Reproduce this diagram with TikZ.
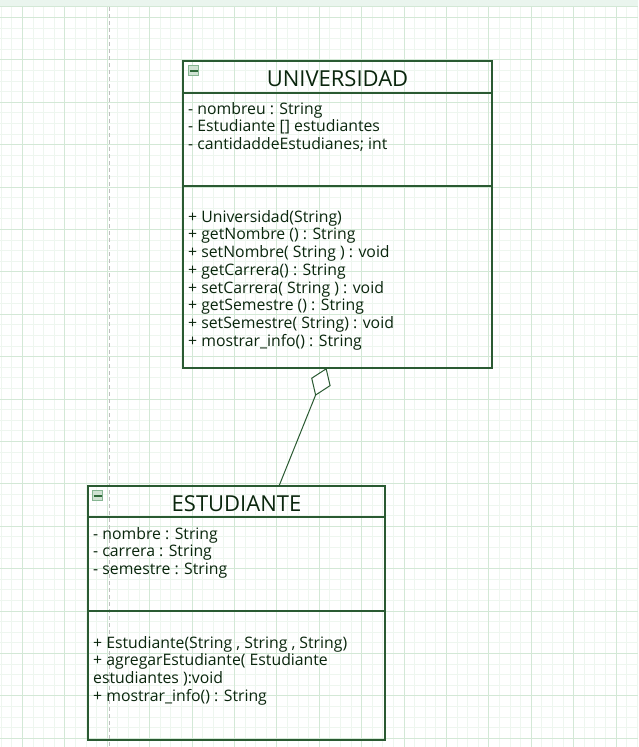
\documentclass[tikz,border=0pt]{standalone}
\usepackage{fontspec}
\setmainfont{Open Sans}
\usetikzlibrary{arrows.meta,positioning,calc}

\definecolor{umlline}{HTML}{2A5A32}
\definecolor{umltext}{HTML}{0A260D}
\definecolor{gridminor}{HTML}{EEF6EF}
\definecolor{gridmajor}{HTML}{D3E8D6}
\definecolor{topband}{HTML}{EAF5EE}
\definecolor{iconedge}{HTML}{86B592}
\definecolor{iconfill}{HTML}{CFE2D2}
\definecolor{iconbar}{HTML}{2F6A3A}

\begin{document}
\begin{tikzpicture}[x=1pt, y=-1pt,
    every node/.style={font=\fontsize{15.8}{17.7}\selectfont, text=umltext},
    compart/.style={draw=umlline, line width=1.2pt, rectangle, inner sep=0pt, outer sep=0pt},
    members/.style={align=left, inner sep=0pt},
    titletext/.style={font=\fontsize{22}{24}\selectfont, text height=20pt},
    icon/.style={draw=iconedge, fill=iconfill, minimum size=10pt, inner sep=0pt, line width=1pt},
    aggr/.style={draw=umlline, line width=1pt,
      -{Diamond[fill=white, length=30pt, width=21pt, line width=1pt]}},
    minorline/.style={gridminor, line width=0.8pt},
    majorline/.style={gridmajor, line width=0.8pt},
    guide/.style={black!25, line width=1pt, dash pattern=on 4pt off 3pt}
  ]
    \useasboundingbox (0,0) rectangle (638,747);

    % Raster
    \fill[white] (0,0) rectangle (638,747);
    \foreach \i in {0,...,60} {\draw[minorline] ({1.2+10.6*\i},6) -- ++(0,741);}
    \foreach \i in {0,...,70} {\draw[minorline] (0,{6.7+10.6*\i}) -- ++(638,0);}
    \foreach \i in {0,...,14} {\draw[majorline] ({22.4+42.4*\i},6) -- ++(0,741);}
    \foreach \i in {0,...,17} {\draw[majorline] (0,{17.3+42.4*\i}) -- ++(638,0);}
    \fill[topband] (0,0) rectangle (638,6.5);
    \draw[majorline] (0,6.5) -- (638,6.5);
    \draw[guide] (109,7) -- (109,747);

    % Klasse UNIVERSIDAD
    \node[compart, titletext, anchor=north west, minimum width=309pt, minimum height=32pt] (uniTitle) at (183,61) {UNIVERSIDAD};
    \node[compart, minimum width=309pt, minimum height=93pt, below=0pt of uniTitle] (uniAttr) {};
    \node[compart, minimum width=309pt, minimum height=182pt, below=0pt of uniAttr] (uniOps) {};
    \node[icon, below right=4pt and 5pt of uniTitle.north west] (uniIcon) {};
    \draw[iconbar, line width=2pt] ([xshift=1.5pt]uniIcon.west) -- ([xshift=-1.5pt]uniIcon.east);

    \node[members, below right=9pt and 5pt of uniAttr.north west] (uniAttrText) {%
      - nombreu : String\\
      - Estudiante [] estudiantes\\
      - cantidaddeEstudianes; int};
    \node[members, below right=24pt and 5pt of uniOps.north west] (uniOpsText) {%
      + Universidad(String)\\
      + getNombre () : String\\
      + setNombre( String ) : void\\
      + getCarrera() : String\\
      + setCarrera( String ) : void\\
      + getSemestre () : String\\
      + setSemestre( String) : void\\
      + mostrar\_info() : String};

    % Klasse ESTUDIANTE
    \node[compart, titletext, anchor=north west, minimum width=297pt, minimum height=31pt] (estTitle) at (88,486) {ESTUDIANTE};
    \node[compart, minimum width=297pt, minimum height=94pt, below=0pt of estTitle] (estAttr) {};
    \node[compart, minimum width=297pt, minimum height=129pt, below=0pt of estAttr] (estOps) {};
    \node[icon, below right=4pt and 4pt of estTitle.north west] (estIcon) {};
    \draw[iconbar, line width=2pt] ([xshift=1.5pt]estIcon.west) -- ([xshift=-1.5pt]estIcon.east);

    \node[members, below right=10pt and 5pt of estAttr.north west] (estAttrText) {%
      - nombre : String\\
      - carrera : String\\
      - semestre : String};
    \node[members, below right=25pt and 5pt of estOps.north west] (estOpsText) {%
      + Estudiante(String , String , String)\\
      + agregarEstudiante( Estudiante\\
      estudiantes ):void\\
      + mostrar\_info() : String};

    % Aggregation
    \draw[aggr] ([xshift=42.5pt]estTitle.north) -- ([xshift=-11pt]uniOps.south);
\end{tikzpicture}
\end{document}
